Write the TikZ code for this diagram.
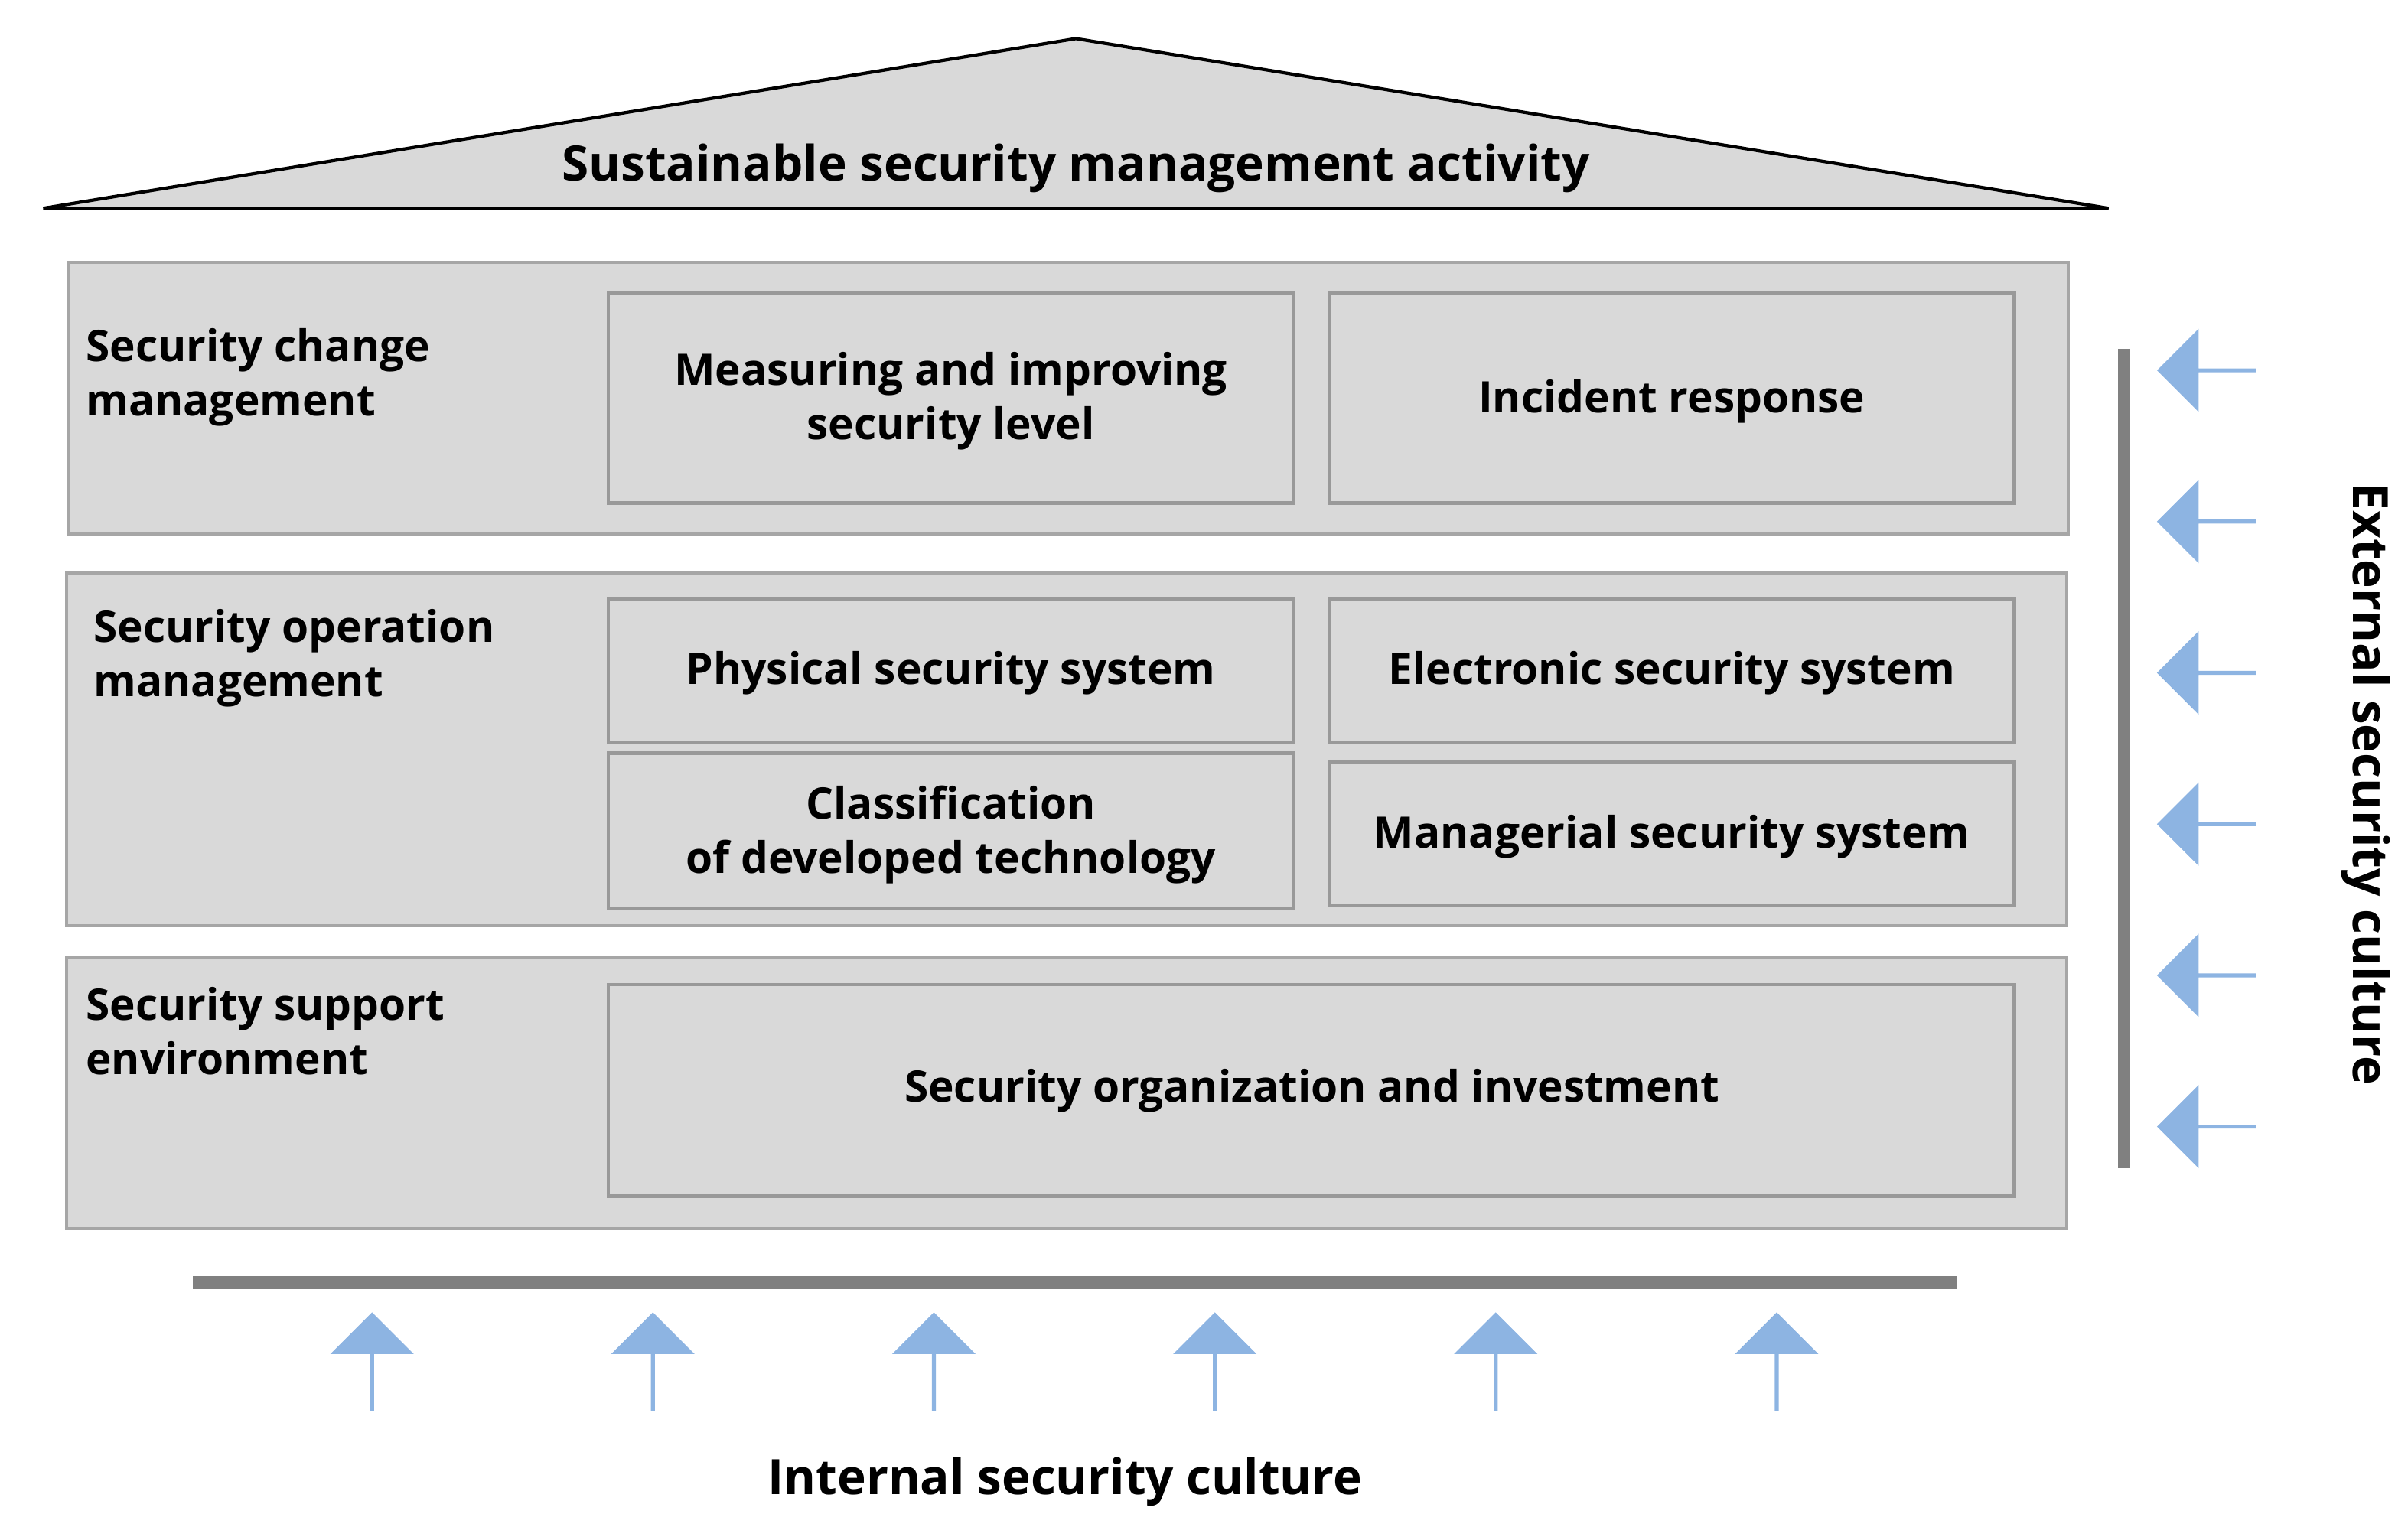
\documentclass[tikz,border=0pt]{standalone}
\usepackage{fontspec}
\setmainfont{Open Sans}
\usetikzlibrary{shapes.arrows}
\definecolor{boxg}{HTML}{D9D9D9}
\definecolor{edg}{HTML}{A6A6A6}
\definecolor{barg}{HTML}{808080}
\definecolor{arrb}{HTML}{8DB4E2}
\begin{document}
\begin{tikzpicture}[x=0.01cm,y=-0.01cm,
  layer/.style={draw=edg,fill=boxg,line width=0.6pt},
  inner/.style={draw=barg!80,fill=boxg,line width=0.6pt},
  txt/.style={font=\bfseries\fontsize{8}{10}\selectfont,align=center,inner sep=0},
  ltxt/.style={font=\bfseries\fontsize{8}{10}\selectfont,align=left,anchor=north west,inner sep=0},
  uparr/.style={single arrow,fill=arrb,draw=none,minimum width=0.54cm,single arrow head extend=0.14cm,minimum height=0.64cm,inner sep=0,shape border rotate=90},
  lfarr/.style={single arrow,fill=arrb,draw=none,minimum width=0.54cm,single arrow head extend=0.14cm,minimum height=0.64cm,inner sep=0,shape border rotate=180}]
\useasboundingbox (0,0) rectangle (1560,989);
\draw[fill=boxg,line width=0.6pt] (28,135) -- (697,25) -- (1366,135) -- cycle;
\node[txt,font=\bfseries\fontsize{9}{11}\selectfont] (roof) at (697,109) {Sustainable security management activity};
\draw[layer] (44,170) rectangle (1340,346);
\draw[layer] (43,371) rectangle (1339,600);
\draw[layer] (43,620) rectangle (1339,796);
\node[ltxt] (l1) at (55,212) {Security change\\management};
\node[ltxt] (l2) at (60,394) {Security operation\\management};
\node[ltxt] (l3) at (55,639) {Security support\\environment};
\draw[inner] (394,190) rectangle (838,326);
\node[txt] (b1) at (616,260) {Measuring and improving\\security level};
\draw[inner] (861,190) rectangle (1305,326);
\node[txt] (b2) at (1083,260) {Incident response};
\draw[inner] (394,388) rectangle (838,481);
\node[txt] (b3) at (616,436) {Physical security system};
\draw[inner] (861,388) rectangle (1305,481);
\node[txt] (b4) at (1083,436) {Electronic security system};
\draw[inner] (394,488) rectangle (838,589);
\node[txt] (b5) at (616,541) {Classification\\of developed technology};
\draw[inner] (861,494) rectangle (1305,587);
\node[txt] (b6) at (1083,542) {Managerial security system};
\draw[inner] (394,638) rectangle (1305,775);
\node[txt] (b7) at (850,707) {Security organization and investment};
\draw[barg,line width=2.3pt] (125,831) -- (1268,831);
\draw[barg,line width=2.3pt] (1376,226) -- (1376,757);
\foreach \x [count=\i] in {241,423,605,787,969,1151}
  \node[uparr] (u\i) at (\x,883) {};
\foreach \y [count=\i] in {240,338,436,534,632,730}
  \node[lfarr] (a\i) at (1430,\y) {};
\node[txt,font=\bfseries\fontsize{9}{11}\selectfont,rotate=-90] (ext) at (1533,508) {External security culture};
\node[txt,font=\bfseries\fontsize{9}{11}\selectfont] (int) at (690,960) {Internal security culture};
\end{tikzpicture}
\end{document}
